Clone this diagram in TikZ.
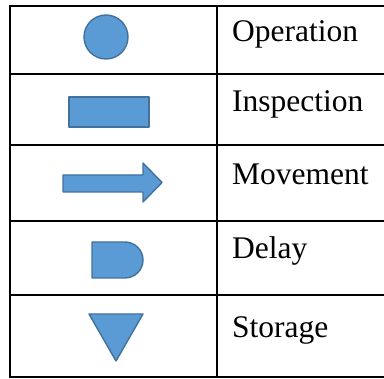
\documentclass[tikz,border=0pt]{standalone}
\usepackage{fontspec}
\setmainfont{Liberation Serif}
\begin{document}
\begin{tikzpicture}[x=1pt,y=-1pt,
  grid/.style={line width=2pt,line cap=rect},
  sym/.style={fill=symfill,draw=symline,line width=1.4pt,line join=round},
  lbl/.style={anchor=base west,inner sep=0pt,font=\fontsize{31.5}{36}\selectfont}]
\definecolor{symfill}{HTML}{5B9BD5}
\definecolor{symline}{HTML}{41719C}
\useasboundingbox (0,0) rectangle (384,379);
% table
\draw[grid] (10,6) -- (390,6);
\draw[grid] (10,74) -- (390,74);
\draw[grid] (10,145) -- (390,145);
\draw[grid] (10,221) -- (390,221);
\draw[grid] (10,295) -- (390,295);
\draw[grid] (10,377.5) -- (390,377.5);
\draw[grid] (10,6) -- (10,377.5);
\draw[grid] (216.5,6) -- (216.5,377.5);
% symbols
\draw[sym] (106,37) circle[radius=22pt];
\draw[sym] (69,97) rectangle (149,127);
\draw[sym] (63,175) -- (143,175) -- (143,163) -- (162,182.5) -- (143,202) -- (143,192) -- (63,192) -- cycle;
\draw[sym] (92,242) -- (125,242) arc[start angle=90,end angle=-90,radius=18pt] -- (92,278) -- cycle;
\draw[sym] (89,314) -- (143,314) -- (116,361) -- cycle;
% labels
\node[lbl] (op) at (232,42) {Operation};
\node[lbl] (insp) at (232,112) {Inspection};
\node[lbl] (mov) at (232,185) {Movement};
\node[lbl] (del) at (232,259) {Delay};
\node[lbl] (sto) at (232,338) {Storage};
\end{tikzpicture}
\end{document}
